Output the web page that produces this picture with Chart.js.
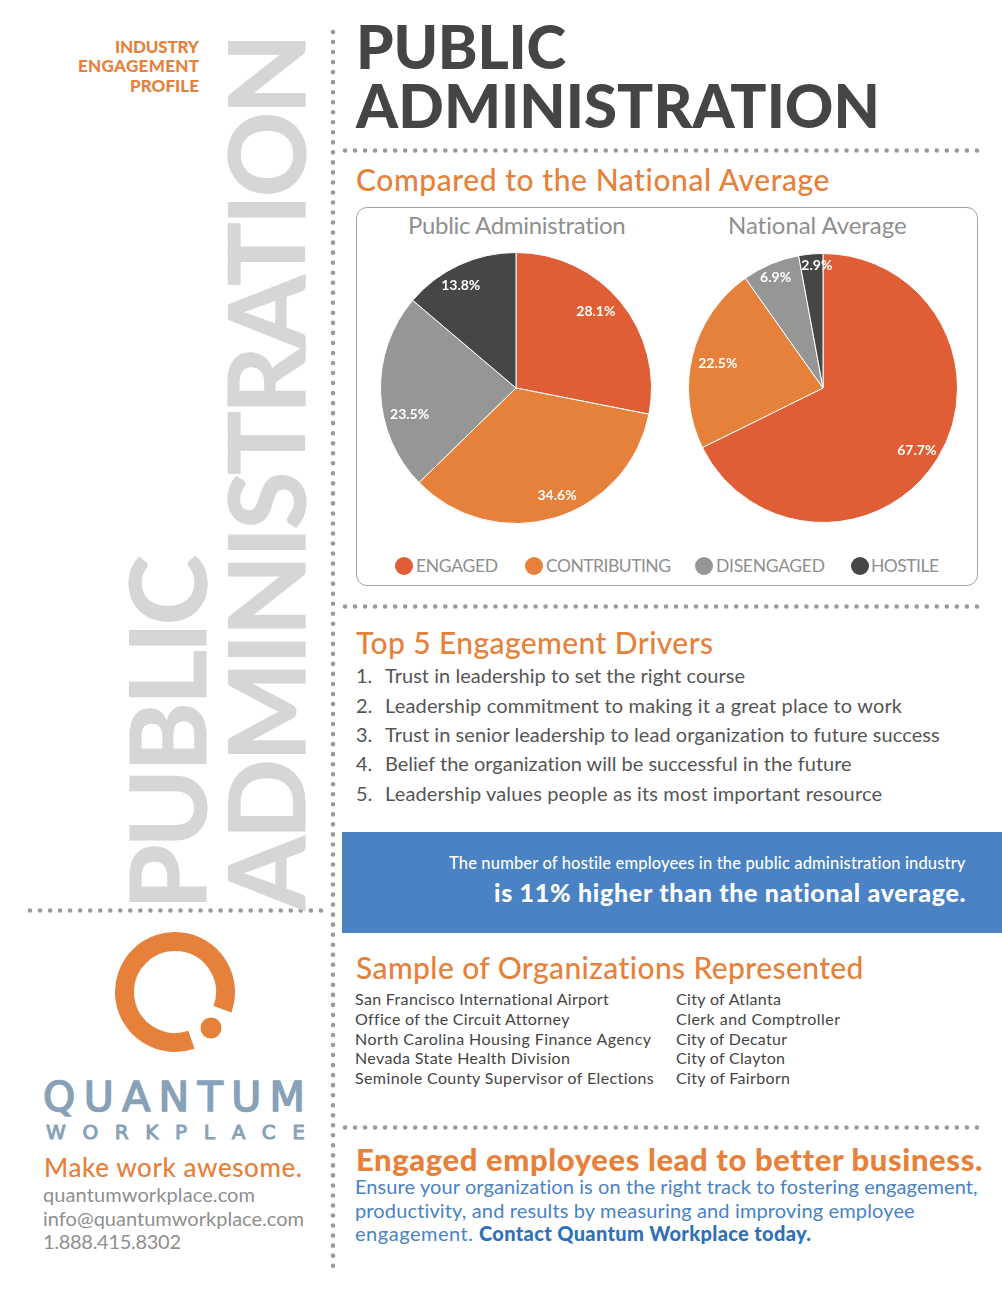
<!DOCTYPE html>
<html><head><meta charset="utf-8">
<script src="https://cdn.jsdelivr.net/npm/chart.js@4"></script>
<style>
html,body{margin:0;padding:0;background:#fff}
body{width:1002px;height:1298px;position:relative;overflow:hidden;font-family:Lato,sans-serif}
.t{position:absolute;white-space:nowrap;line-height:.9;transform:translateY(-50%)}
#banner{position:absolute;left:342px;top:832px;width:660px;height:101px;background:#4a82c3}
#panel{position:absolute;left:356px;top:207px;width:620px;height:377px;border:1.3px solid #a3a3a3;border-radius:11px}
canvas{position:absolute}
svg{position:absolute;left:0;top:0}
.rot{position:absolute;white-space:nowrap;line-height:1;transform-origin:0 0;color:#d6d6d6;font-weight:700;-webkit-text-stroke:1.2px #d6d6d6}
.dot{position:absolute;border-radius:50%;width:18px;height:18px}
</style></head><body>
<div id="panel"></div><div id="banner"></div>
<svg id="art" width="1002" height="1298"></svg>
<canvas id="pieA" style="left:371px;top:243px;width:290px;height:290px" width="290" height="290"></canvas>
<canvas id="pieB" style="left:679px;top:244px;width:288px;height:288px" width="288" height="288"></canvas>
<script>
const categories=["ENGAGED","CONTRIBUTING","DISENGAGED","HOSTILE"];
const publicAdminValues=[28.1,34.6,23.5,13.8];
const nationalValues=[67.7,22.5,6.9,2.9];
const sliceColors=["#e05e36","#e5813a","#969696","#464646"];
const driverList=["Trust in leadership to set the right course","Leadership commitment to making it a great place to work","Trust in senior leadership to lead organization to future success","Belief the organization will be successful in the future","Leadership values people as its most important resource"];
const orgsLeft=["San Francisco International Airport","Office of the Circuit Attorney","North Carolina Housing Finance Agency","Nevada State Health Division","Seminole County Supervisor of Elections"];
const orgsRight=["City of Atlanta","Clerk and Comptroller","City of Decatur","City of Clayton","City of Fairborn"];

const OR="#e5813a",DK="#454545",BL="#4a82c3",GR="#8f8f8f";
// text, left, right, centre y, size, colour, weight, family
function T(s,l,r,y,size,color,w,f){
  const d=document.createElement('div');d.className='t';d.textContent=s;
  d.style.cssText=`left:${l}px;top:${y-1}px;font-size:${size}px;color:${color};font-weight:${w||400}`+(f?`;font-family:${f}`:'');
  document.body.appendChild(d);
  if(r!=null&&s.length>1){const nat=d.getBoundingClientRect().width;d.style.letterSpacing=((r-l-nat)/(s.length-1))+'px';}
  return d;
}
function R(s,x,bottom,top,size){ // rotated big text
  const d=document.createElement('div');d.className='rot';d.textContent=s;
  d.style.fontSize=size+'px';document.body.appendChild(d);
  const nat=d.getBoundingClientRect().width;
  d.style.letterSpacing=((bottom-top-nat)/(s.length-1))+'px';
  d.style.left=x+'px';d.style.top=bottom+'px';d.style.transform='rotate(-90deg)';
}
T("INDUSTRY",115,199,48,17,OR,900);T("ENGAGEMENT",78,199,67,17,OR,900);T("PROFILE",130,199,87,17,OR,900);
R("ADMINISTRATION",211,910,33,106);R("PUBLIC",112,910,555,106);
T("PUBLIC",356,566,47,60,DK,900);T("ADMINISTRATION",356,880,106,60,DK,900);
T("Compared to the National Average",356,830,180,30,OR,500);
T("Public Administration",408,626,226,24,GR,400);T("National Average",728,907,226,24,GR,400);
const lx=[[404,416,498],[534,546,671],[704,716,825],[860,871,939]];
categories.forEach((c,i)=>{
  const d=document.createElement('div');d.className='dot';
  d.style.cssText=`left:${lx[i][0]-9}px;top:557px;background:${sliceColors[i]}`;document.body.appendChild(d);
  T(c,lx[i][1],lx[i][2],567,17.5,GR,400);
});
T("Top 5 Engagement Drivers",356,713,643,30,OR,500);
const dy=[676,706,735,764,794],dr=[745,902,940,852,882];
driverList.forEach((s,i)=>{T((i+1)+".",356,null,dy[i],20,"#555");T(s,385,dr[i],dy[i],20,"#555");});
T("The number of hostile employees in the public administration industry",449,966,864,16.5,"#fff",500);
T("is 11% higher than the national average.",494,966,893,25,"#fff",900);
T("Sample of Organizations Represented",356,864,968,30,OR,500);
const oy=[1000,1020,1040,1059,1079],ol=[609,568,651,570,654],ora=[781,840,787,785,790];
orgsLeft.forEach((s,i)=>T(s,355,ol[i],oy[i],16,"#444"));
orgsRight.forEach((s,i)=>T(s,676,ora[i],oy[i],16,"#444"));
T("Engaged employees lead to better business.",356,981,1161,31,OR,900);
T("Ensure your organization is on the right track to fostering engagement,",355,978,1187,20,BL);
T("productivity, and results by measuring and improving employee",355,915,1211,20,BL);
T("engagement.",355,473,1234,20,BL);
T("Contact Quantum Workplace today.",479,811,1234,20,"#2f70ba",900);
const qa=T("QUANTUM",43,305,1098,41,"#87a2b8",400,"'DejaVu Sans'");qa.style.webkitTextStroke="1.6px #87a2b8";
const qb=T("WORKPLACE",46,305,1133,20,"#87a2b8",400,"'DejaVu Sans'");qb.style.webkitTextStroke="1px #87a2b8";
T("Make work awesome.",44,302,1169,26,OR,500);
T("quantumworkplace.com",43,255,1195,20,GR);T("info@quantumworkplace.com",43,304,1219,20,GR);T("1.888.415.8302",43,181,1242,20,GR);

// dotted rules and logo mark
const cx=175,cy=992,rm=50.5,a1=20*Math.PI/180,a2=71*Math.PI/180;
document.getElementById('art').innerHTML=
 [[333,32,333,1266],[345,150.5,978,150.5],[345,606.5,978,606.5],[345,1127.5,978,1127.5],[30,910.5,325,910.5]]
 .map(l=>`<line x1="${l[0]}" y1="${l[1]}" x2="${l[2]}" y2="${l[3]}" stroke="#9a9a9a" stroke-width="4.6" stroke-linecap="round" stroke-dasharray="0 10.03"/>`).join('')
 +`<path d="M${cx+rm*Math.cos(a1)} ${cy+rm*Math.sin(a1)} A${rm} ${rm} 0 1 0 ${cx+rm*Math.cos(a2)} ${cy+rm*Math.sin(a2)}" fill="none" stroke="${OR}" stroke-width="19"/>`
 +`<circle cx="211" cy="1028" r="10.5" fill="${OR}"/>`;

// value labels on slices
const sliceLabels={id:'sliceLabels',afterDatasetsDraw(chart,args,opts){
  const ctx=chart.ctx,meta=chart.getDatasetMeta(0);
  ctx.save();ctx.fillStyle='#fff';ctx.font='700 14px Lato,sans-serif';ctx.textAlign='center';ctx.textBaseline='middle';
  meta.data.forEach((arc,i)=>{
    const a=(arc.startAngle+arc.endAngle)/2,r=arc.outerRadius*0.83,n=opts.nudge[i];
    ctx.fillText(chart.data.datasets[0].data[i].toFixed(1)+'%',arc.x+Math.cos(a)*r+n[0],arc.y+Math.sin(a)*r+n[1]);
  });
  ctx.restore();
}};
function pie(id,vals,nudge){
  new Chart(document.getElementById(id),{type:'pie',
    data:{labels:categories,datasets:[{data:vals,backgroundColor:sliceColors,borderColor:'#fff',borderWidth:1}]},
    options:{responsive:false,animation:false,layout:{padding:9},
      plugins:{legend:{display:false},tooltip:{enabled:false},sliceLabels:{nudge}}},
    plugins:[sliceLabels]});
}
pie('pieA',publicAdminValues,[[-7,-5],[9,0],[6,23],[-8,0]]);
pie('pieB',nationalValues,[[-1,4],[3,3],[-4,-8],[4,-11]]);
</script>
</body></html>
